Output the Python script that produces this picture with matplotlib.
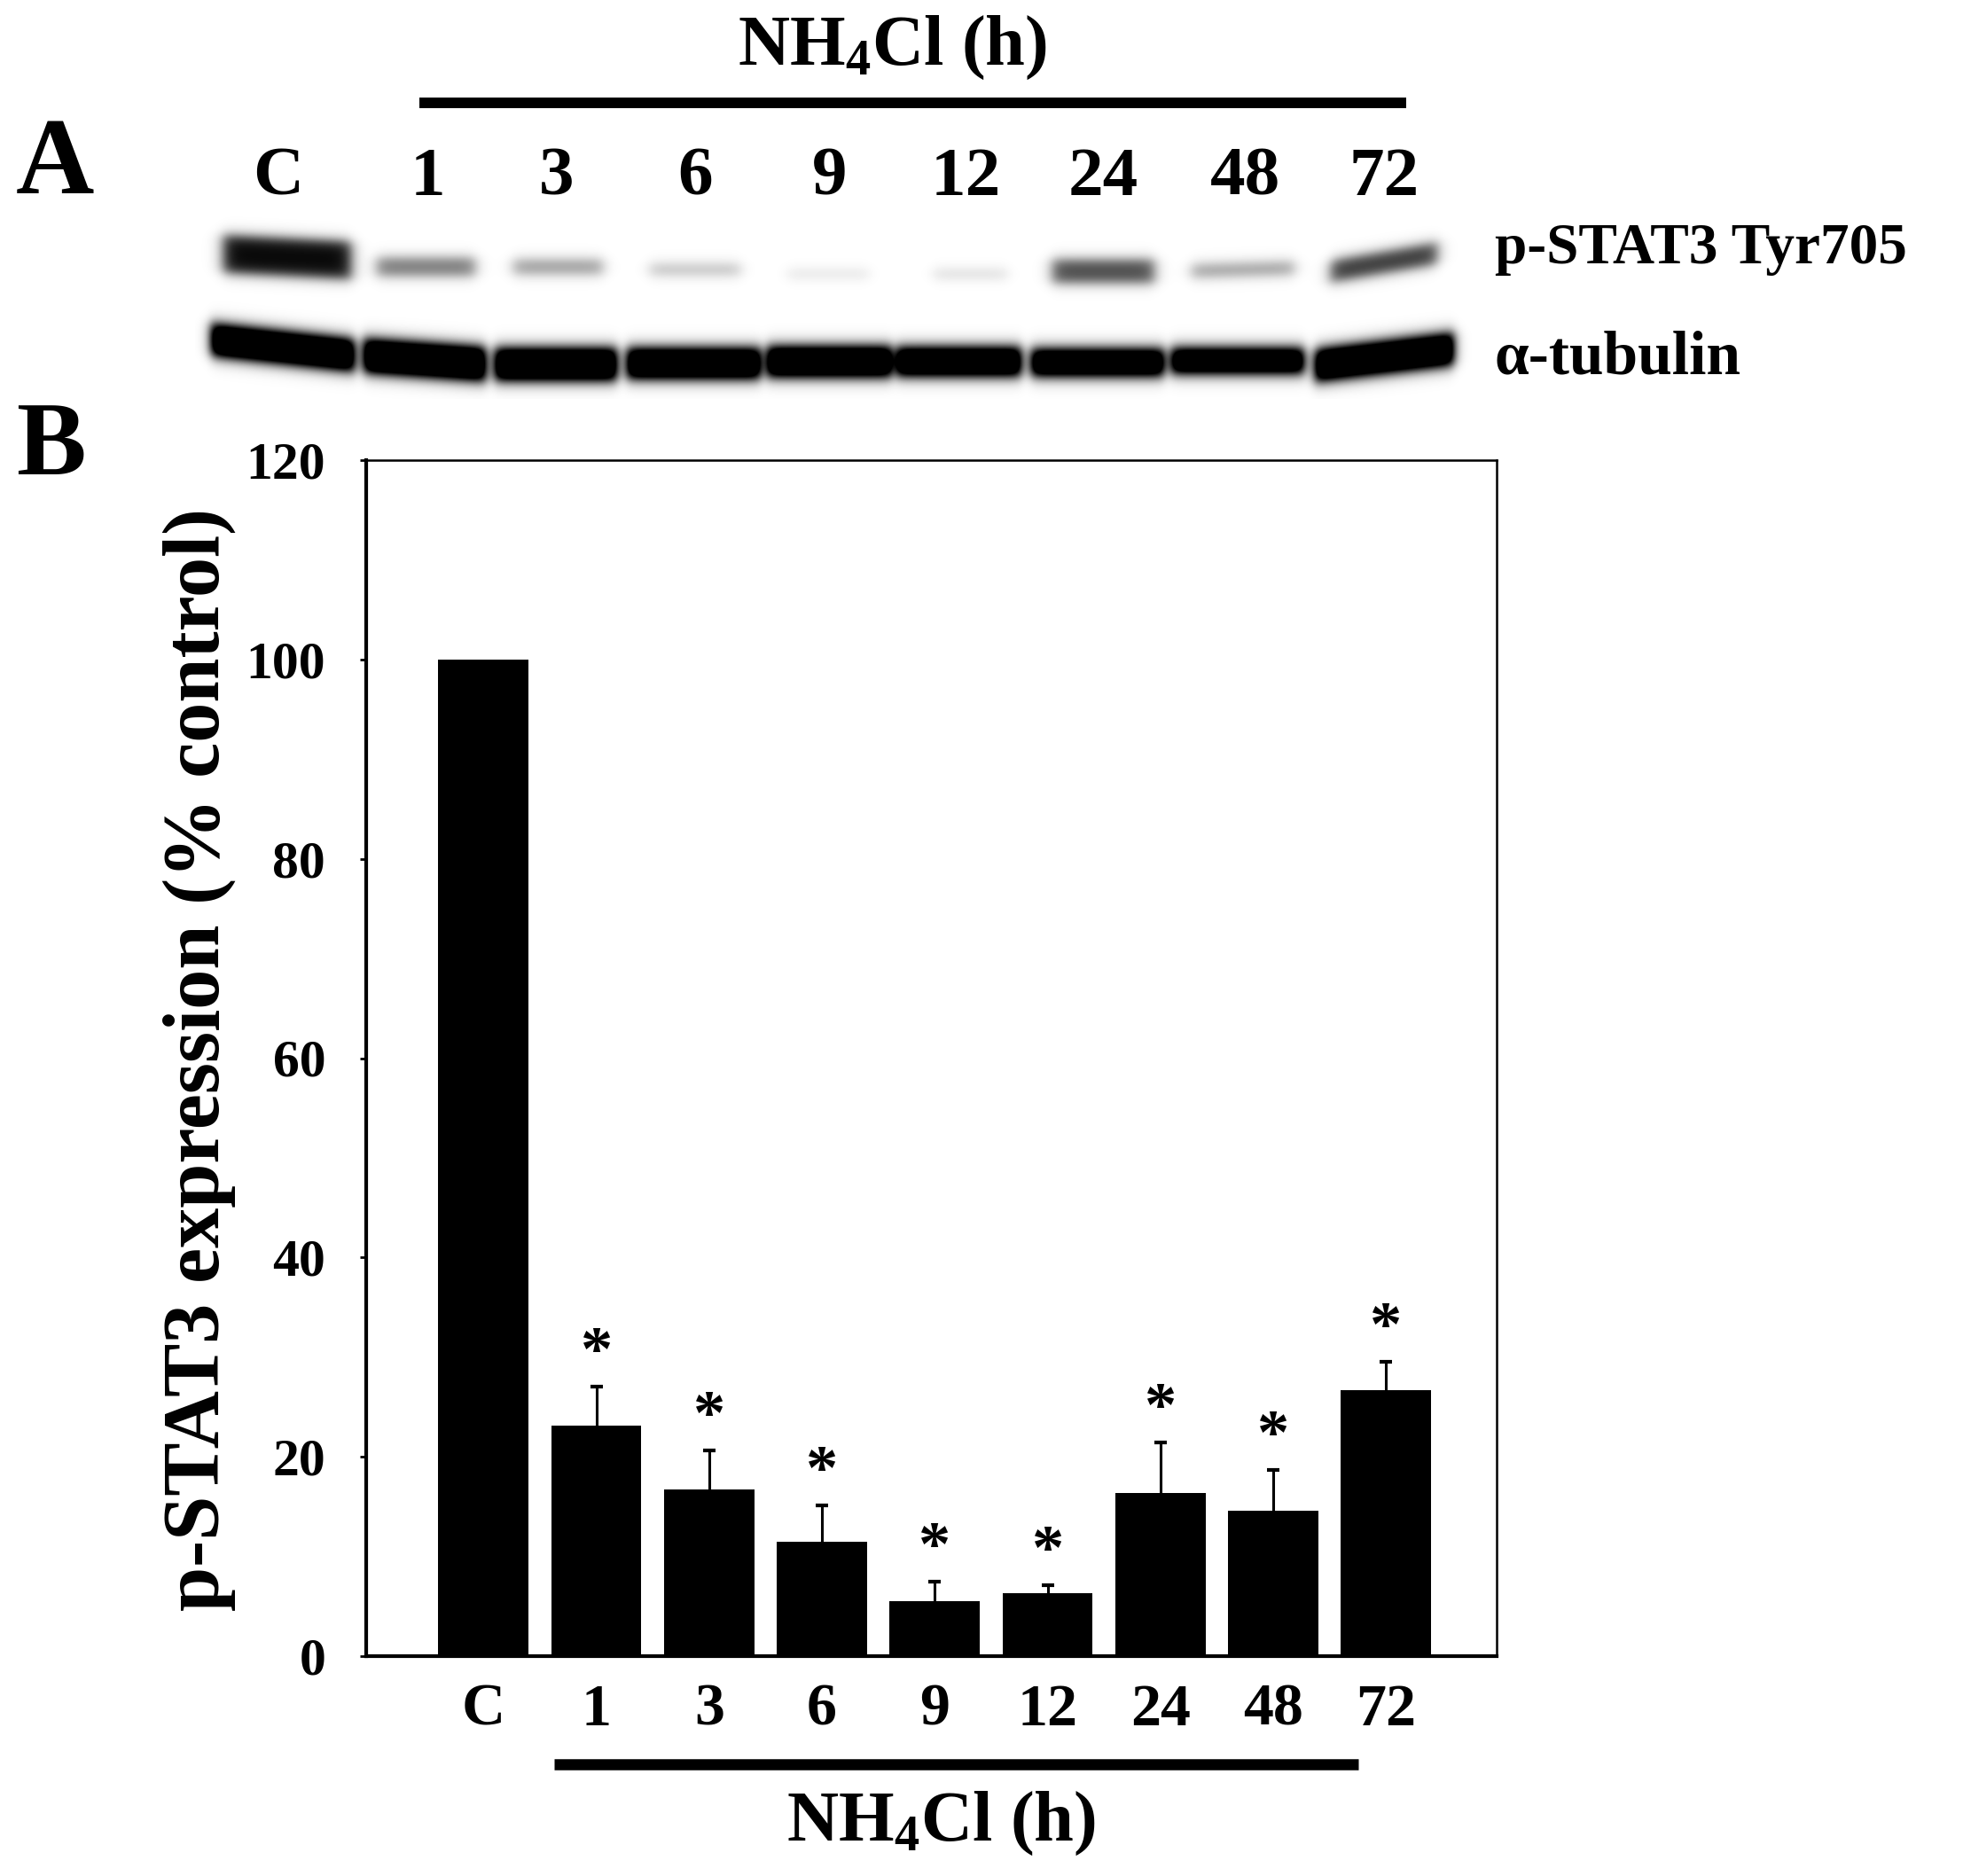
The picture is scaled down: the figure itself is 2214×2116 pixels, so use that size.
import numpy as np
import matplotlib
matplotlib.use("Agg")
import matplotlib.pyplot as plt

plt.rcParams['font.family'] = ['Liberation Serif', 'DejaVu Serif']
plt.rcParams['font.weight'] = 'bold'
plt.rcParams['mathtext.fontset'] = 'custom'
plt.rcParams['mathtext.rm'] = 'Liberation Serif:bold'
plt.rcParams['mathtext.it'] = 'Liberation Serif:bold'
plt.rcParams['mathtext.bf'] = 'Liberation Serif:bold'

# data
lanes = ["C", "1", "3", "6", "9", "12", "24", "48", "72"]
pstat3 = [100, 23.1, 16.7, 11.5, 5.5, 6.3, 16.4, 14.6, 26.7]
pstat3_err = [0, 3.9, 3.9, 3.6, 2.0, 0.8, 5.0, 4.1, 2.8]
signif = [False, True, True, True, True, True, True, True, True]
yticks = [0, 20, 40, 60, 80, 100, 120]

# blot band darkness (0 = none, 1 = black)
band_pstat3 = [0.97, 0.55, 0.42, 0.28, 0.12, 0.16, 0.72, 0.42, 0.80]
band_tubulin = [1.6, 1.6, 1.6, 1.6, 1.6, 1.6, 1.6, 1.6, 1.6]

W, H = 2214, 2116
fig = plt.figure(figsize=(W / 100, H / 100), dpi=100)

# overlay in pixel coordinates for panel A and free labels
ov = fig.add_axes([0, 0, 1, 1])
ov.axis('off')

# ---- western blot picture (band layout in pixels) ----
bx0, bx1, by0, by1 = 220, 1660, 240, 450
xx, yy = np.meshgrid(np.arange(bx0, bx1) + 0.5, np.arange(by0, by1) + 0.5)

def box(v, a, b, s):
    return 0.5 * (np.tanh((v - a) / s) - np.tanh((v - b) / s))

p_left = [252, 425, 579, 733, 888, 1053, 1187, 1344, 1501]
p_right = [396, 536, 680, 835, 980, 1136, 1302, 1460, 1621]
p_yc = [290, 301, 301, 304, 309, 309, 306, 304, 296]
p_half = [21, 10, 8, 6, 5, 5, 13, 7, 12]
p_slope = [0.05, 0.0, 0.0, 0.0, 0.0, 0.0, 0.0, -0.03, -0.17]

t_left = [238, 410, 558, 707, 865, 1011, 1163, 1321, 1483]
t_right = [400, 548, 696, 858, 1006, 1152, 1313, 1471, 1640]
t_yc = [392, 406, 411, 410, 408, 408, 409, 407, 403]
t_half = [18, 19, 18, 17, 17, 16, 15, 14, 18]
t_slope = [0.11, 0.07, 0.0, 0.0, 0.0, 0.0, 0.0, 0.0, -0.12]

dark = np.zeros_like(xx)
for k in range(len(lanes)):
    xc = 0.5 * (p_left[k] + p_right[k])
    yc = p_yc[k] + p_slope[k] * (xx - xc)
    dark += band_pstat3[k] * box(xx, p_left[k], p_right[k], 9) * box(yy, yc - p_half[k], yc + p_half[k], 8)
    xc = 0.5 * (t_left[k] + t_right[k])
    yc = t_yc[k] + t_slope[k] * (xx - xc)
    dark += band_tubulin[k] * box(xx, t_left[k], t_right[k], 7) * box(yy, yc - t_half[k], yc + t_half[k], 9)
img = 1 - np.clip(dark, 0, 1)
ov.imshow(img, cmap='gray', vmin=0, vmax=1, extent=(bx0, bx1, by1, by0),
          interpolation='bilinear', aspect='auto')
ov.set_xlim(0, W)
ov.set_ylim(H, 0)

lane_x = [314, 482, 628, 784, 936, 1089, 1244, 1405, 1561]
for lab, x in zip(lanes, lane_x):
    ov.text(x, 220, lab, fontsize=57, ha='center', va='baseline')

ov.text(18, 218, "A", fontsize=88, ha='left', va='baseline')
ov.text(18, 535, "B", fontsize=85, ha='left', va='baseline')
ov.text(1006, 73, r"$\mathrm{NH_4Cl}$ (h)", fontsize=58, ha='center', va='baseline')
ov.plot([473, 1586], [116, 116], color='black', lw=8.6, solid_capstyle='butt')
ov.text(1686, 297, "p-STAT3 Tyr705", fontsize=47, ha='left', va='baseline')
ov.text(1686, 422, "\u03b1-tubulin", fontsize=50, ha='left', va='baseline')

ov.plot([625, 1532], [1990, 1990], color='black', lw=9, solid_capstyle='butt')
ov.text(1061, 2076, r"$\mathrm{NH_4Cl}$ (h)", fontsize=58, ha='center', va='baseline')
ov.text(225, 1195, "p-STAT3 expression (% control)", fontsize=65, rotation=90,
        ha='center', va='center')

# ---- bar chart ----
ax = fig.add_axes([413 / W, 1 - 1868 / H, (1688 - 413) / W, (1868 - 519) / H])
x = np.arange(len(lanes))
ax.bar(x, pstat3, width=0.8, color='black', zorder=3)
ex = [i for i in x if pstat3_err[i] > 0]
eb = ax.errorbar(ex, [pstat3[i] for i in ex],
                 yerr=[[0] * len(ex), [pstat3_err[i] for i in ex]],
                 fmt='none', ecolor='black', elinewidth=2.2, capsize=5, capthick=3, zorder=2)
eb[1][0].set_visible(False)  # no cap on the lower side
for i in x:
    if signif[i]:
        ax.annotate("*", (i, pstat3[i] + pstat3_err[i]), xytext=(0, 3),
                    textcoords='offset points', ha='center', va='bottom', fontsize=52)

ax.set_xlim(-1.04, 8.98)
ax.set_ylim(0, 120)
ax.set_yticks(yticks)
ax.set_xticks(x)
ax.set_xticklabels(lanes)
ax.tick_params(axis='y', direction='out', length=5, width=2, labelsize=43, pad=28)
ax.tick_params(axis='x', length=0, labelsize=49, pad=22)
for s in ['left', 'bottom']:
    ax.spines[s].set_linewidth(3)
for s in ['top', 'right']:
    ax.spines[s].set_linewidth(1.8)

fig.savefig("out.png", dpi=100)
